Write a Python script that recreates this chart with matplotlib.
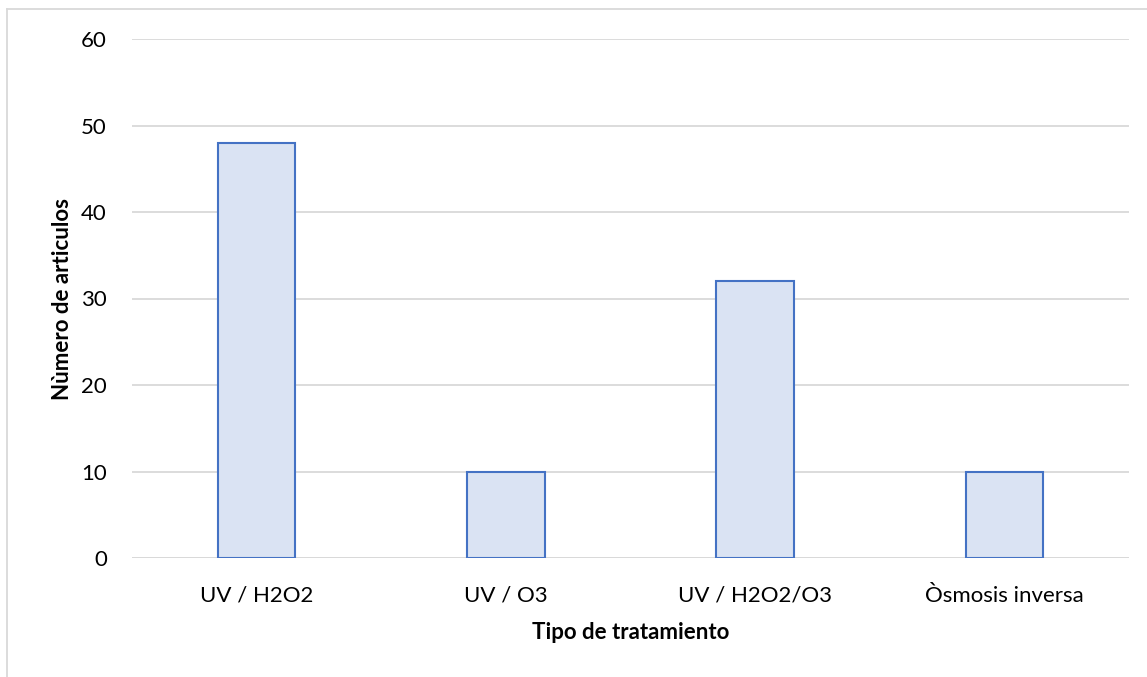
import matplotlib
matplotlib.use("Agg")
import matplotlib.pyplot as plt
from matplotlib.lines import Line2D

categories = ["UV / H2O2", "UV / O3", "UV / H2O2/O3", "Òsmosis inversa"]
values = [48, 10, 32, 10]
yticks = [0, 10, 20, 30, 40, 50, 60]

plt.rcParams['font.family'] = ['Lato', 'DejaVu Sans']

W, H = 1147, 677
fig = plt.figure(figsize=(W/100, H/100), dpi=100)
ax = fig.add_axes([132/W, 1-558/H, (1129-132)/W, (558-39)/H])

fs = 16
x = list(range(len(categories)))
ax.bar(x, values, width=0.31, color="#DAE3F3", edgecolor="#4472C4", linewidth=1.5, zorder=3)
ax.set_xlim(-0.5, len(categories)-0.5)
ax.set_ylim(0, 60)
ax.set_yticks(yticks)
ax.set_xticks(x)
ax.set_xticklabels(categories, fontsize=fs)
ax.tick_params(axis='y', labelsize=fs, length=0, pad=18)
ax.tick_params(axis='x', length=0, pad=20)
ax.grid(axis='y', color="#D9D9D9", linewidth=1.3, zorder=0)
for s in ax.spines.values():
    s.set_visible(False)
ax.axhline(0, color="#D9D9D9", linewidth=1.3, zorder=2)
ax.set_xlabel("Tipo de tratamiento", fontsize=fs, fontweight='bold', labelpad=12)
ax.set_ylabel("Nùmero de articulos", fontsize=fs, fontweight='bold', labelpad=6)

fig.add_artist(Line2D([7/W, 7/W], [0, 1-9/H], color="#D9D9D9", linewidth=1.3, transform=fig.transFigure))
fig.add_artist(Line2D([7/W, 1], [1-9/H, 1-9/H], color="#D9D9D9", linewidth=1.3, transform=fig.transFigure))

fig.savefig("out.png", dpi=100)
